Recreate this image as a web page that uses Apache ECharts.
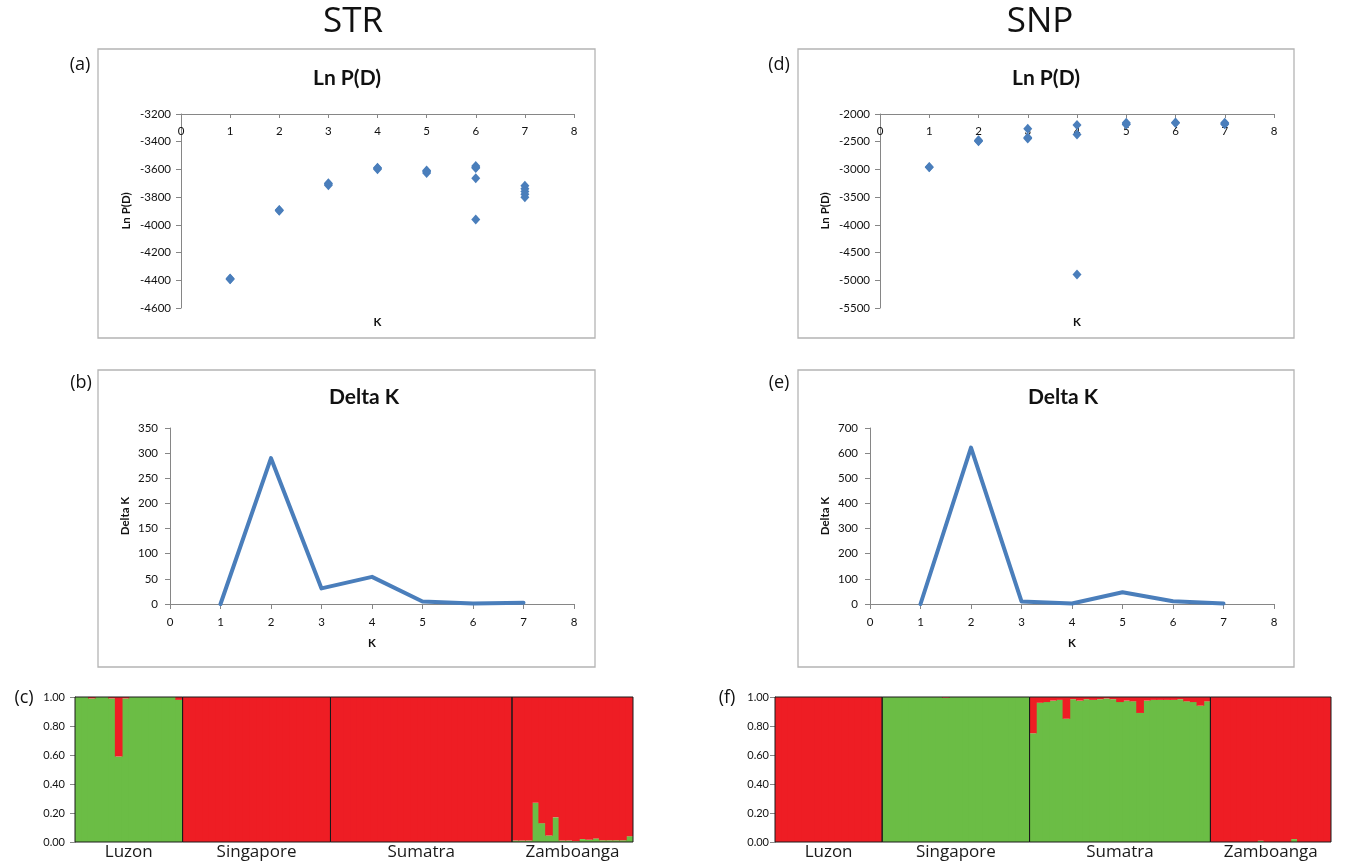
<!DOCTYPE html>
<html><head><meta charset="utf-8">
<script src="https://cdn.jsdelivr.net/npm/echarts/dist/echarts.min.js"></script>
<style>html,body{margin:0;padding:0;background:#fff}#c{width:1353px;height:864px}</style>
</head><body><div id="c"></div>
<script>
// ---------------- DATA ----------------
const strLnPK = [1,1,1,2,2,2,3,3,3,4,4,4,5,5,5,6,6,6,6,6,7,7,7,7,7];
const strLnPD = [-4390,-4388,-4392,-3895,-3892,-3898,-3705,-3715,-3700,-3588,-3598,-3592,-3608,-3625,-3615,-3575,-3590,-3585,-3663,-3962,-3718,-3740,-3760,-3780,-3800];
const snpLnPK = [1,1,2,2,2,3,3,3,4,4,4,5,5,5,6,6,7,7,7];
const snpLnPD = [-2960,-2958,-2475,-2490,-2482,-2268,-2440,-2425,-2200,-2370,-4895,-2160,-2180,-2190,-2155,-2162,-2160,-2175,-2185];
const deltaKs = [1,2,3,4,5,6,7];
const strDeltaK = [0,290,31,54,5,1,2.5];
const snpDeltaK = [0,622,10,2,47,11,2];
const populations = ['Luzon','Singapore','Sumatra','Zamboanga'];
// membership proportion in the green cluster for each individual (red = remainder)
const strLuzonQ = [1,1,0.99,1,1,0.99,0.59,0.99,1,1,1,1,1,1,1,0.98];
const strSingaporeQ = [0,0,0,0,0,0,0,0,0,0,0,0,0,0,0,0,0,0,0,0,0,0];
const strSumatraQ = [0,0,0,0,0,0,0,0,0,0,0,0,0,0,0,0,0,0,0,0,0,0,0,0,0,0,0];
const strZamboangaQ = [0.01,0.01,0.01,0.27,0.13,0.045,0.17,0.01,0.01,0.005,0.02,0.015,0.025,0.012,0.012,0.012,0.012,0.04];
const snpLuzonQ = [0,0,0,0,0,0,0,0,0,0,0,0,0,0,0,0];
const snpSingaporeQ = [1,1,1,1,1,1,1,1,1,0.995,1,1,1,1,1,1,1,1,1,1,1,1];
const snpSumatraQ = [0.75,0.96,0.965,0.975,0.98,0.85,0.985,0.975,0.985,0.98,0.985,0.99,0.985,0.965,0.975,0.97,0.89,0.975,0.98,0.98,0.98,0.98,0.985,0.97,0.965,0.94,0.97];
const snpZamboangaQ = [0,0,0,0,0,0,0,0.008,0,0,0,0,0.02,0,0,0,0,0];

// ---------------- STYLE / LAYOUT ----------------
const BLUE = '#4A7EBB', GREEN = '#6BBD45', RED = '#EE1D24';
const AX = '#868686';
const F = 'Lato, "Open Sans", sans-serif';
const F2 = '"Open Sans", "Noto Sans", sans-serif';

const chart = echarts.init(document.getElementById('c'), null, {renderer:'canvas'});
const grids = [], xAxes = [], yAxes = [], series = [], graphics = [];
const plain = v => String(v);

function txt(t, x, y, size, weight, family) {
  graphics.push({type:'text', x:x, y:y, z:10,
    style:{text:t, x:0, y:0, font:(weight||'normal')+' '+size+'px '+(family||F2), fill:'#111',
      align:'center', verticalAlign:'middle', textAlign:'center', textVerticalAlign:'middle'}});
}
function box(x1,y1,x2,y2){
  graphics.push({type:'rect', z:0, shape:{x:x1,y:y1,width:x2-x1,height:y2-y1},
    style:{fill:'none', stroke:'#b4b4b4', lineWidth:1.3}});
}
function valueAxisStyle(extra){
  return Object.assign({
    axisLine:{show:true, onZero:false, lineStyle:{color:AX, width:1}},
    axisTick:{show:true, length:5, lineStyle:{color:AX}},
    splitLine:{show:false},
    axisLabel:{color:'#111', fontFamily:F, fontSize:11.5, formatter:plain},
    nameTextStyle:{color:'#111', fontFamily:F, fontSize:11.5, fontWeight:'bold'}
  }, extra);
}

// Ln P(D) scatter panel (x-axis crosses at the top)
function lnPanel(g, ymin, ymax, yint, ks, vals, nameGapY, labelMarginY) {
  const gi = grids.length;
  grids.push({left:g.left, top:g.top, width:g.width, height:g.height});
  const xi = xAxes.length;
  xAxes.push(valueAxisStyle({gridIndex:gi, type:'value', position:'top', min:0, max:8, interval:1,
    axisTick:{show:true, inside:true, length:4, lineStyle:{color:AX}},
    axisLabel:{inside:true, margin:11, color:'#111', fontFamily:F, fontSize:11.5, formatter:plain}}));
  xAxes.push({gridIndex:gi, type:'value', position:'bottom', min:0, max:8,
    axisLine:{show:false}, axisTick:{show:false}, axisLabel:{show:false}, splitLine:{show:false},
    name:'K', nameLocation:'middle', nameGap:8,
    nameTextStyle:{color:'#111', fontFamily:F, fontSize:11.5, fontWeight:'bold'}});
  const yi = yAxes.length;
  yAxes.push(valueAxisStyle({gridIndex:gi, type:'value', min:ymin, max:ymax, interval:yint,
    name:'Ln P(D)', nameLocation:'middle', nameGap:nameGapY,
    axisLabel:{margin:labelMarginY, color:'#111', fontFamily:F, fontSize:11.5, formatter:plain}}));
  series.push({type:'scatter', xAxisIndex:xi, yAxisIndex:yi, symbol:'diamond', symbolSize:[9,10],
    itemStyle:{color:BLUE, opacity:1}, data: ks.map((k,i)=>[k, vals[i]])});
}

function deltaPanel(g, ymax, yint, ks, vals, nameGapY, labelMarginY) {
  const gi = grids.length;
  grids.push({left:g.left, top:g.top, width:g.width, height:g.height});
  const xi = xAxes.length;
  xAxes.push(valueAxisStyle({gridIndex:gi, type:'value', position:'bottom', min:0, max:8, interval:1,
    name:'K', nameLocation:'middle', nameGap:33,
    axisLabel:{margin:12, color:'#111', fontFamily:F, fontSize:11.5, formatter:plain}}));
  const yi = yAxes.length;
  yAxes.push(valueAxisStyle({gridIndex:gi, type:'value', min:0, max:ymax, interval:yint,
    name:'Delta K', nameLocation:'middle', nameGap:nameGapY,
    axisLabel:{margin:labelMarginY, color:'#111', fontFamily:F, fontSize:11.5, formatter:plain}}));
  series.push({type:'line', xAxisIndex:xi, yAxisIndex:yi, showSymbol:false, symbol:'none',
    lineStyle:{color:BLUE, width:4, cap:'round', join:'round'},
    data: ks.map((k,i)=>[k, vals[i]])});
}

// STRUCTURE bar plot, one grid per population
function structPanel(left, right, top, bottom, pops, qs, labelMargin) {
  const total = qs.reduce((s,a)=>s+a.length, 0);
  const per = (right-left)/total;
  let cum = 0;
  pops.forEach((p, idx) => {
    const q = qs[idx];
    const gi = grids.length;
    grids.push({left:left+cum*per, top:top, width:q.length*per, height:bottom-top,
      show:true, borderColor:'#1a1a1a', borderWidth:1, backgroundColor:'transparent', z:5});
    cum += q.length;
    const xi = xAxes.length;
    xAxes.push({gridIndex:gi, type:'category', data:q.map((_,i)=>p+' '+(i+1)),
      axisLine:{show:false}, axisTick:{show:false}, axisLabel:{show:false}, splitLine:{show:false},
      name:p, nameLocation:'middle', nameGap:2,
      nameTextStyle:{color:'#1a1a1a', fontFamily:F2, fontSize:17, verticalAlign:'top'}});
    const yi = yAxes.length;
    yAxes.push({gridIndex:gi, type:'value', min:0, max:1, interval:0.2, show: idx===0,
      axisLine:{show:true, lineStyle:{color:'#555'}},
      axisTick:{show:true, length:5, lineStyle:{color:'#888'}},
      splitLine:{show:false},
      axisLabel:{margin:labelMargin, color:'#111', fontFamily:F, fontSize:11, formatter:v=>v.toFixed(2)}});
    const stack = 's'+gi;
    series.push({type:'bar', xAxisIndex:xi, yAxisIndex:yi, stack:stack, barWidth:'114%',
      itemStyle:{color:GREEN}, data:q.slice()});
    series.push({type:'bar', xAxisIndex:xi, yAxisIndex:yi, stack:stack, barWidth:'114%',
      itemStyle:{color:RED}, data:q.map(v=>+(1-v).toFixed(4))});
  });
}

// ---- Left column: STR ----
box(98, 49, 595, 338);
box(98, 370, 595, 667);
lnPanel({left:181, top:114, width:393, height:194}, -4600, -3200, 200, strLnPK, strLnPD, 49, 10);
deltaPanel({left:170, top:428, width:404, height:176}, 350, 50, deltaKs, strDeltaK, 39, 12);
structPanel(75, 633, 697, 842, populations, [strLuzonQ, strSingaporeQ, strSumatraQ, strZamboangaQ], 10);

// ---- Right column: SNP ----
box(798, 49, 1294, 338);
box(798, 370, 1294, 667);
lnPanel({left:880, top:114, width:394, height:194}, -5500, -2000, 500, snpLnPK, snpLnPD, 49, 10);
deltaPanel({left:870, top:428, width:404, height:176}, 700, 100, deltaKs, snpDeltaK, 39, 12);
structPanel(775, 1331, 697, 842, populations, [snpLuzonQ, snpSingaporeQ, snpSumatraQ, snpZamboangaQ], 6);

// titles & labels
txt('STR', 353, 22, 35, 'normal', F2);
txt('SNP', 1040, 22, 35, 'normal', F2);
txt('Ln P(D)', 347, 78, 21, 'bold', F);
txt('Ln P(D)', 1046, 78, 21, 'bold', F);
txt('Delta K', 364, 397, 21, 'bold', F);
txt('Delta K', 1063, 397, 21, 'bold', F);
txt('(a)', 80, 65, 18, 'normal', F2);
txt('(b)', 81, 383, 18, 'normal', F2);
txt('(c)', 24, 698, 18, 'normal', F2);
txt('(d)', 779, 65, 18, 'normal', F2);
txt('(e)', 779, 383, 18, 'normal', F2);
txt('(f)', 727, 698, 18, 'normal', F2);

chart.setOption({
  backgroundColor:'#ffffff',
  animation:false,
  grid:grids, xAxis:xAxes, yAxis:yAxes, series:series, graphic:graphics
});
</script></body></html>
